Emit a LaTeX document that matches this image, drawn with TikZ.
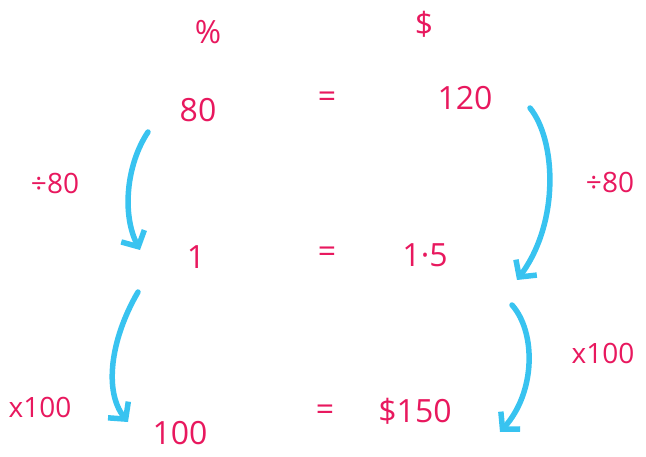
\documentclass[tikz,border=0pt]{standalone}
\usepackage{fontspec}
\setmainfont{Open Sans}
\usetikzlibrary{arrows.meta}
\definecolor{ink}{HTML}{E8185E}
\definecolor{sky}{HTML}{38C3F0}
\begin{document}
\begin{tikzpicture}[x=1pt,y=-1pt,
  lbl/.style={text=ink,font=\fontsize{32}{36}\selectfont,inner sep=0pt},
  small/.style={text=ink,font=\fontsize{28}{32}\selectfont,inner sep=0pt},
  arr/.style={draw=sky,line width=5.5pt,line cap=round,-{Straight Barb[length=12pt,width=26pt,line width=5.5pt]}}]
\useasboundingbox (0,0) rectangle (646,457);
\node[lbl] (pct) at (208,32) {\%};
\node[lbl] (dol) at (424,24) {\$};
\node[lbl] (a1) at (198,110) {80};
\node[lbl] (e1) at (327,100) {=};
\node[lbl] (b1) at (465,98) {120};
\node[small] (dl) at (55,183) {÷80};
\node[small] (dr) at (610,182) {÷80};
\node[lbl] (a2) at (196,257) {1};
\node[lbl] (e2) at (327,255) {=};
\node[lbl] (b2) at (425,255) {1·5};
\node[small] (ml) at (40,407) {x100};
\node[small] (mr) at (603,353) {x100};
\node[lbl] (a3) at (180,433) {100};
\node[lbl] (e3) at (325,413) {=};
\node[lbl] (b3) at (415,411) {\$150};
\coordinate (s1) at (148,132); \coordinate (t1) at (140,250);
\coordinate (s2) at (530,108); \coordinate (t2) at (517,280);
\coordinate (s3) at (138,292); \coordinate (t3) at (128,422);
\coordinate (s4) at (512,305); \coordinate (t4) at (500,432);
\draw[arr] (s1) .. controls (126,165) and (122,215) .. (t1);
\draw[arr] (s2) .. controls (556,140) and (560,222) .. (t2);
\draw[arr] (s3) .. controls (110,340) and (104,392) .. (t3);
\draw[arr] (s4) .. controls (536,332) and (536,392) .. (t4);
\end{tikzpicture}
\end{document}
